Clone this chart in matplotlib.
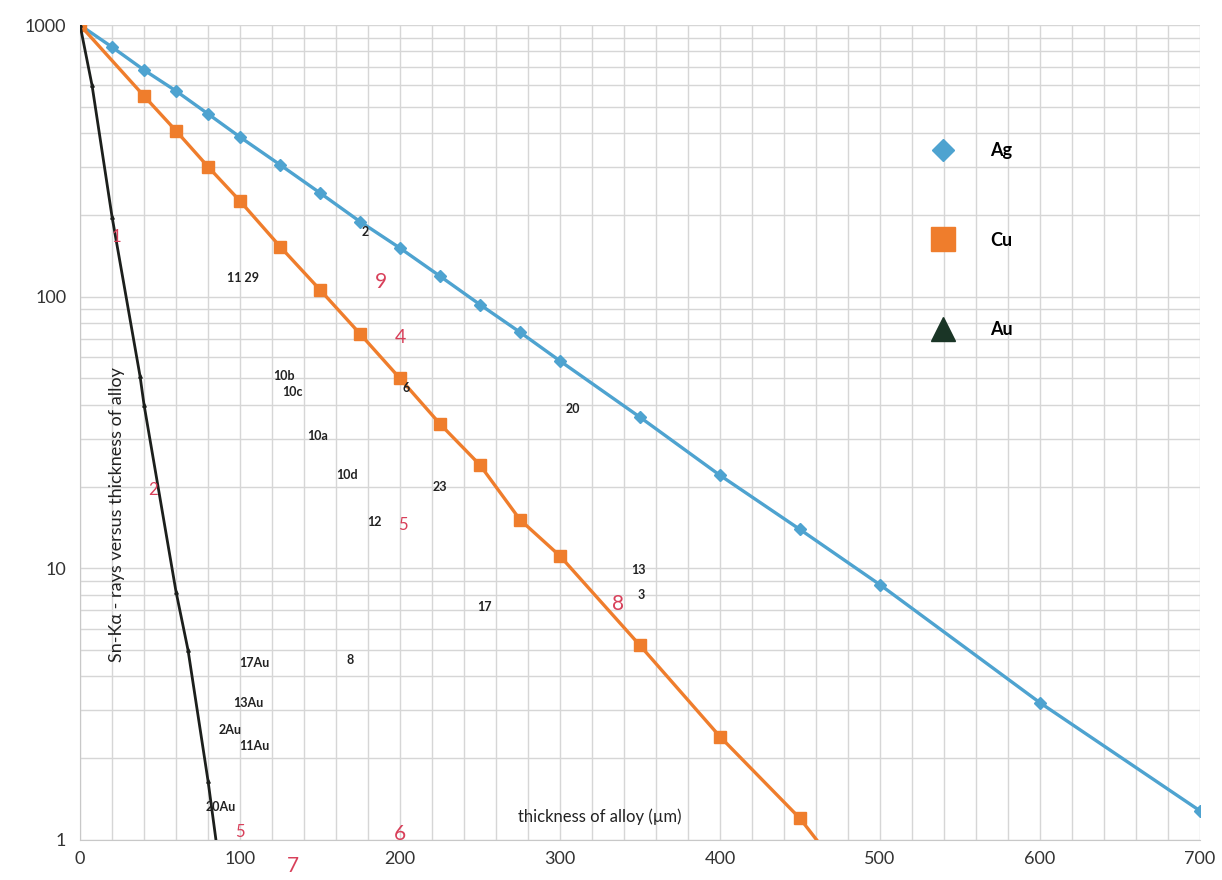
import matplotlib.pyplot as plt
from matplotlib.ticker import MultipleLocator, LogLocator, NullFormatter, FixedLocator
from matplotlib.lines import Line2D

plt.rcParams['font.family'] = ['Lato', 'DejaVu Sans']

# Ag, Cu, Au absorption curves
ag_x = [0, 20, 40, 60, 80, 100, 125, 150, 175, 200, 225, 250, 275, 300, 350, 400, 450, 500, 600, 700]
ag_y = [1000, 830, 683, 572, 471, 387, 306, 241, 189, 151, 119, 93.5, 74, 58, 36, 22, 13.9, 8.7, 3.2, 1.28]

cu_x = [0, 40, 60, 80, 100, 125, 150, 175, 200, 225, 250, 275, 300, 350, 400, 450, 500]
cu_y = [1000, 548, 408, 301, 225, 153, 106, 73, 50, 34, 24, 15.1, 11.1, 5.2, 2.4, 1.2, 0.5]

au_x = [0, 7.5, 20, 37.5, 40, 60, 67.5, 80, 90]
au_y = [1000, 600, 197, 51, 40, 8.2, 5.0, 1.65, 0.6]

# sample labels scribbled on the chart
black_labels = ["2", "11 29", "10b", "10c", "6", "10a", "20", "10d", "23", "12",
                "13", "3", "17", "17Au", "8", "13Au", "2Au", "11Au", "20Au"]
black_x = [178, 102, 127.5, 133, 204, 148.5, 308, 167, 225, 184,
           349, 351, 253, 109, 169, 105, 94, 109, 88]
black_y = [173, 117, 51, 44.7, 46, 30.6, 38.7, 22, 20, 14.8,
           9.9, 8.0, 7.2, 4.5, 4.6, 3.2, 2.54, 2.22, 1.32]

red_labels = ["1", "9", "4", "2", "5", "8", "5", "6", "7"]
red_x = [23, 188, 200, 45.5, 202, 336, 100, 200, 133]
red_y = [166, 113, 71, 19.5, 14.4, 7.4, 1.07, 1.05, 0.80]
red_size = [12, 15, 14, 12, 12, 15, 12, 15, 15]

ag_col = '#4ea3d0'
cu_col = '#ef7d2c'
au_col = '#1c1f1c'
red_col = '#d8405a'

fig = plt.figure(figsize=(12.22, 8.8), dpi=100)
ax = fig.add_axes([0.0655, 0.0455, 0.9165, 0.926])

ax.plot(ag_x, ag_y, color=ag_col, linewidth=2.4, marker='D', markersize=6, zorder=4)
ax.plot(cu_x, cu_y, color=cu_col, linewidth=2.4, marker='s', markersize=8, zorder=4)
ax.plot(au_x, au_y, color=au_col, linewidth=2.0, marker='^', markersize=2.5, zorder=4)

ax.set_yscale('log')
ax.set_xlim(0, 700)
ax.set_ylim(1, 1000)

ax.xaxis.set_major_locator(MultipleLocator(100))
ax.xaxis.set_minor_locator(MultipleLocator(20))
ax.yaxis.set_major_locator(FixedLocator([1, 10, 100, 1000]))
ax.yaxis.set_minor_locator(LogLocator(base=10, subs=range(2, 10)))
ax.yaxis.set_minor_formatter(NullFormatter())
ax.set_yticklabels(['1', '10', '100', '1000'])
ax.grid(which='both', color='#d6d6d6', linewidth=1.0)
ax.set_axisbelow(True)
ax.tick_params(which='both', length=0, labelsize=13, colors='#333333', pad=8)
ax.tick_params(axis='y', pad=10)

for s in ['top', 'right']:
    ax.spines[s].set_visible(False)
ax.spines['left'].set_color('#c8c8c8')
ax.spines['bottom'].set_color('#c8c8c8')

for t, x, y in zip(black_labels, black_x, black_y):
    ax.text(x, y, t, fontsize=9, color='#222222', ha='center', va='center',
            fontweight='bold', zorder=5)
for t, x, y, s in zip(red_labels, red_x, red_y, red_size):
    ax.text(x, y, t, fontsize=s, color=red_col, ha='center', va='center',
            zorder=5, clip_on=False)

ax.text(325, 1.22, 'thickness of alloy (\u00b5m)', fontsize=12, color='#222222',
        ha='center', va='center')
ax.text(23, 15.8, 'Sn-K\u03b1 - rays versus thickness of alloy', fontsize=13,
        color='#222222', rotation=90, ha='center', va='center')

handles = [Line2D([], [], linestyle='none', marker='D', markersize=11, color=ag_col),
           Line2D([], [], linestyle='none', marker='s', markersize=17, color=cu_col),
           Line2D([], [], linestyle='none', marker='^', markersize=17, color='#1a3526')]
leg = ax.legend(handles, ['Ag', 'Cu', 'Au'], loc='upper left', bbox_to_anchor=(0.74, 0.876),
                frameon=False, labelspacing=4.0, handletextpad=1.6, fontsize=13)
for txt in leg.get_texts():
    txt.set_fontweight('bold')

plt.savefig('out.png', dpi=100)
